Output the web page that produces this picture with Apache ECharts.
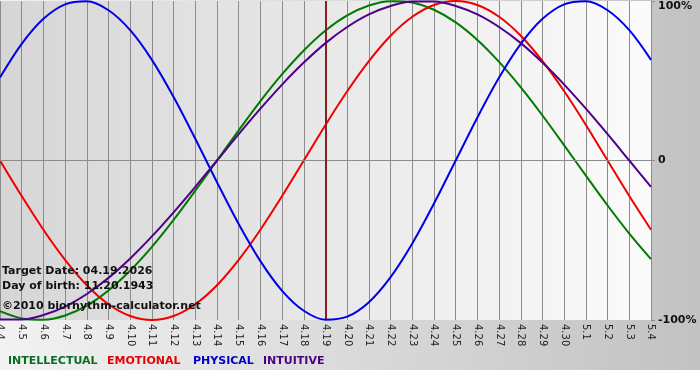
<!DOCTYPE html>
<html><head><meta charset="utf-8">
<script src="https://cdn.jsdelivr.net/npm/echarts@6/dist/echarts.min.js"></script>
<style>html,body{margin:0;padding:0;background:#fff}#c{width:700px;height:380px}</style>
</head><body><div id="c"></div>
<script>
// Day labels along the x axis
const dayLabels = ['4.4','4.5','4.6','4.7','4.8','4.9','4.10','4.11','4.12','4.13','4.14','4.15','4.16','4.17','4.18','4.19','4.20','4.21','4.22','4.23','4.24','4.25','4.26','4.27','4.28','4.29','4.30','5.1','5.2','5.3','5.4'];
// Cycle values (fraction of 100%), one per day
const intellectual = [-0.945,-0.990,-0.999,-0.972,-0.910,-0.815,-0.690,-0.541,-0.372,-0.189,0,0.189,0.372,0.541,0.690,0.815,0.910,0.972,0.999,0.990,0.945,0.866,0.756,0.618,0.458,0.282,0.095,-0.095,-0.282,-0.458,-0.618];
const emotional = [0,-0.223,-0.434,-0.623,-0.782,-0.901,-0.975,-1.000,-0.975,-0.901,-0.782,-0.623,-0.434,-0.223,0,0.223,0.434,0.623,0.782,0.901,0.975,1.000,0.975,0.901,0.782,0.623,0.434,0.223,0,-0.223,-0.434];
const physical = [0.520,0.731,0.888,0.979,0.998,0.942,0.817,0.631,0.398,0.136,-0.136,-0.398,-0.631,-0.817,-0.942,-0.998,-0.979,-0.888,-0.731,-0.520,-0.270,0,0.270,0.520,0.731,0.888,0.979,0.998,0.942,0.817,0.631];
const intuitive = [-0.997,-0.997,-0.969,-0.916,-0.837,-0.736,-0.614,-0.476,-0.325,-0.165,0,0.165,0.325,0.476,0.614,0.736,0.837,0.916,0.969,0.997,0.997,0.969,0.916,0.837,0.736,0.614,0.476,0.325,0.165,0,-0.165];
const seriesNames = ['INTELLECTUAL','EMOTIONAL','PHYSICAL','INTUITIVE'];
const yTickLabels = {'-1':'-100%','0':'0','1':'100%'};
const targetDay = '4.19';
const infoLines = ['Target Date: 04.19.2026','Day of birth: 11.20.1943','\u00A92010 biorhythm-calculator.net'];

const lineColors = ['#007a00','#f00000','#0000e6','#4f0088'];
const legendColors = ['#0b6b1f','#e80000','#0000cc','#4b0082'];
const legendX = [8, 107, 193, 263];
const values = [intellectual, emotional, physical, intuitive];
const FONT = '"DejaVu Sans", Verdana, sans-serif';

const chart = echarts.init(document.getElementById('c'), null, {renderer:'canvas'});
const series = values.map((v, i) => ({
  name: seriesNames[i], type: 'line', data: v, smooth: 0.33, symbol: 'none',
  lineStyle: {color: lineColors[i], width: 2}, z: 3 + i, silent: true
}));
series.unshift({
  name: 'ref', type: 'line', data: [], symbol: 'none', z: 2, silent: true,
  markLine: {
    silent: true, symbol: ['none','none'], label: {show: false}, animation: false,
    data: [
      {yAxis: 0, lineStyle: {color: '#8c8c8c', width: 1, type: 'solid'}},
      {xAxis: targetDay, lineStyle: {color: '#8a1f1f', width: 2, type: 'solid'}}
    ]
  }
});

const graphics = [
  {type:'rect', left:0, top:370, shape:{width:700, height:10}, style:{fill:'#ffffff'}, silent:true, z:0}
];
infoLines.forEach((t, i) => {
  graphics.push({type:'text', x:2, y:[271.5, 286.5, 306.5][i], z:100, silent:true,
    style:{text:t, font:'bold 11px ' + FONT, fill:'#111', verticalAlign:'middle', align:'left'}});
});
seriesNames.forEach((t, i) => {
  graphics.push({type:'text', x:legendX[i], y:361.5, z:100, silent:true,
    style:{text:t, font:'bold 11px ' + FONT, fill:legendColors[i], verticalAlign:'middle', align:'left'}});
});

chart.setOption({
  animation: false,
  backgroundColor: {type:'linear', x:0, y:0, x2:1, y2:0, colorStops:[{offset:0, color:'#f2f2f2'},{offset:1, color:'#c2c2c2'}]},
  grid: {left:0, right:49, top:1, bottom:60, show:true, borderWidth:0, containLabel:false, outerBoundsMode:'none',
    backgroundColor: {type:'linear', x:0, y:0, x2:1, y2:0, colorStops:[{offset:0, color:'#d6d6d6'},{offset:1, color:'#fbfbfb'}]}},
  xAxis: {
    type:'category', data: dayLabels, boundaryGap:false,
    axisLine:{show:true, lineStyle:{color:'#8c8c8c', width:1}},
    axisTick:{show:true, interval:0, length:3, lineStyle:{color:'#8c8c8c'}},
    axisLabel:{interval:0, rotate:-90, margin:4, fontFamily:FONT, fontSize:10, color:'#222', hideOverlap:false},
    splitLine:{show:true, interval:0, lineStyle:{color:'#8c8c8c', width:1}}
  },
  yAxis: {
    type:'value', position:'right', min:-1, max:1, interval:1,
    axisLine:{show:true, lineStyle:{color:'#8c8c8c'}},
    axisTick:{show:true, length:4, lineStyle:{color:'#8c8c8c'}},
    splitLine:{show:false},
    axisLabel:{margin:7, fontFamily:FONT, fontSize:11, fontWeight:'bold', color:'#111',
      formatter: v => v === 1 ? '{top|' + yTickLabels['1'] + '}' : (v === -1 ? '{bot|' + yTickLabels['-1'] + '}' : yTickLabels[String(v)]),
      rich:{
        top:{fontFamily:FONT, fontSize:11, fontWeight:'bold', color:'#111', padding:[11,0,0,0]},
        bot:{fontFamily:FONT, fontSize:11, fontWeight:'bold', color:'#111', padding:[1,0,0,0]}
      }
    }
  },
  series: series,
  graphic: graphics
});
</script></body></html>
